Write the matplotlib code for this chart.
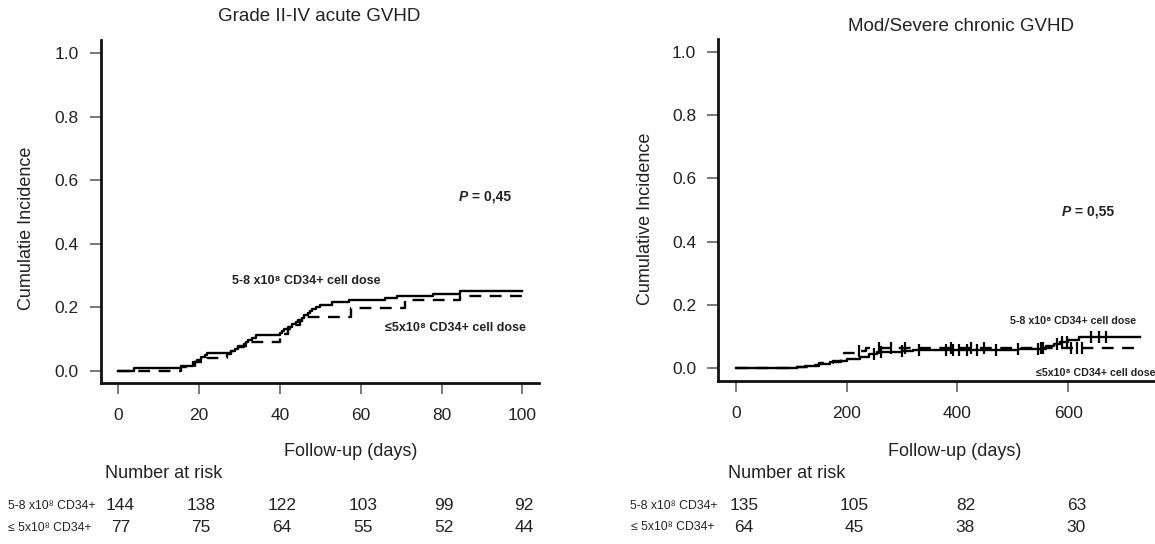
import numpy as np
import matplotlib
matplotlib.use("Agg")
import matplotlib.pyplot as plt

plt.rcParams['font.family'] = ['Liberation Sans', 'DejaVu Sans']

W, H = 1155, 544

# ---------------- data: acute GVHD (left) ----------------
acute_hi_t = [0, 4, 15.5, 18.5, 19.5, 20.5, 21.5, 22, 28, 29, 29.5, 31, 31.5, 32, 33, 34,
              40, 40.5, 41, 42, 43, 44, 44.5, 45.5, 46, 47, 47.5, 48, 49, 50, 53, 57,
              66, 69, 78, 84.5, 100]
acute_hi_v = [0, 0.007, 0.014, 0.028, 0.035, 0.042, 0.049, 0.056, 0.063, 0.069, 0.076, 0.083,
              0.090, 0.097, 0.104, 0.111, 0.118, 0.125, 0.132, 0.139, 0.146, 0.153, 0.160,
              0.167, 0.174, 0.181, 0.188, 0.194, 0.201, 0.208, 0.215, 0.222, 0.229, 0.236,
              0.243, 0.250, 0.250]
acute_lo_t = [0, 15.5, 19, 22, 27, 28, 29.5, 32, 40, 41, 42, 43.5, 45, 46.5, 57.5, 71, 84.5, 100]
acute_lo_v = [0, 0.013, 0.026, 0.039, 0.052, 0.065, 0.078, 0.091, 0.104, 0.117, 0.130, 0.143,
              0.156, 0.170, 0.196, 0.222, 0.235, 0.235]
acute_ticks = [0, 20, 40, 60, 80, 100]
acute_risk_hi = [144, 138, 122, 103, 99, 92]
acute_risk_lo = [77, 75, 64, 55, 52, 44]

# ---------------- data: chronic GVHD (right) ----------------
chron_hi_t = [0, 110, 125, 150, 170, 190, 200, 225, 240, 255, 300, 320, 510, 560, 575, 585, 600, 620, 730]
chron_hi_v = [0, 0.004, 0.008, 0.015, 0.019, 0.023, 0.030, 0.037, 0.044, 0.051, 0.055, 0.058,
              0.062, 0.069, 0.076, 0.083, 0.090, 0.098, 0.098]
chron_lo_t = [0, 110, 130, 150, 175, 190, 195, 215, 235, 730]
chron_lo_v = [0, 0.004, 0.010, 0.016, 0.022, 0.031, 0.047, 0.055, 0.063, 0.063]
chron_hi_cens = [250, 262, 300, 330, 380, 392, 402, 418, 436, 470, 510, 545, 580, 588, 598, 640, 655, 668]
chron_lo_cens = [222, 258, 280, 305, 388, 425, 448, 550, 555, 605, 615, 625]
chron_ticks = [0, 200, 400, 600]
chron_risk_hi = [135, 105, 82, 63]
chron_risk_lo = [64, 45, 38, 30]

row_hi = "5-8 x10\u2078 CD34+"
row_lo = "\u2264 5x10\u2078 CD34+"
lab_hi = "5-8 x10\u2078 CD34+ cell dose"
lab_lo = "\u22645x10\u2078 CD34+ cell dose"


def fx(x):
    return x / W


def fy(y):
    return 1 - y / H


def step_val(ts, vs, t):
    i = np.searchsorted(ts, t, side='right') - 1
    return vs[max(i, 0)]


fig = plt.figure(figsize=(W / 100, H / 100), dpi=100)

axL = fig.add_axes([fx(100.7), fy(383.4), (538.5 - 100.7) / W, (383.4 - 39.5) / H])
axR = fig.add_axes([fx(718.3), fy(381.0), 437.8 / W, (381.0 - 38.9) / H])

for ax in (axL, axR):
    for s in ('top', 'right'):
        ax.spines[s].set_visible(False)
    for s in ('left', 'bottom'):
        ax.spines[s].set_linewidth(2.0)
        ax.spines[s].set_color('#111111')
    ax.tick_params(axis='both', direction='out', length=8, width=1.1, color='#555555',
                   labelsize=12.5, labelcolor='#222222')
    ax.tick_params(axis='y', pad=8)
    ax.tick_params(axis='x', pad=10)
    ax.set_yticks([0, 0.2, 0.4, 0.6, 0.8, 1.0])
    ax.set_yticklabels(['0.0', '0.2', '0.4', '0.6', '0.8', '1.0'])

dash = (0, (5, 3.6))

# Left panel
axL.step(acute_hi_t, acute_hi_v, where='post', color='black', lw=1.7)
axL.step(acute_lo_t, acute_lo_v, where='post', color='black', lw=1.7, linestyle=dash)
axL.set_xlim(-4.36, 104.0)
axL.set_ylim(-0.04, 1.043)
axL.set_xticks(acute_ticks)

# Right panel
axR.step(chron_hi_t, chron_hi_v, where='post', color='black', lw=1.7)
axR.step(chron_lo_t, chron_lo_v, where='post', color='black', lw=1.7, linestyle=dash)
cv_hi = [step_val(chron_hi_t, chron_hi_v, t) for t in chron_hi_cens]
cv_lo = [step_val(chron_lo_t, chron_lo_v, t) for t in chron_lo_cens]
axR.plot(chron_hi_cens, cv_hi, ls='none', marker='|', ms=9, mew=1.6, color='black')
axR.plot(chron_lo_cens, cv_lo, ls='none', marker='|', ms=9, mew=1.6, color='black')
axR.set_xlim(-31.4, 758.3)
axR.set_ylim(-0.04, 1.040)
axR.set_xticks(chron_ticks)

tc = '#222222'
# Titles and axis labels
fig.text(fx(319), fy(16.7), "Grade II-IV acute GVHD", ha='center', va='center', fontsize=13.5, color=tc)
fig.text(fx(961), fy(26.7), "Mod/Severe chronic GVHD", ha='center', va='center', fontsize=13.5, color=tc)
fig.text(fx(27), fy(228), "Cumulatie Incidence", rotation=90, ha='center', va='center', fontsize=13, color=tc)
fig.text(fx(646), fy(219), "Cumulative Incidence", rotation=90, ha='center', va='center', fontsize=13, color=tc)
fig.text(fx(351), fy(451.7), "Follow-up (days)", ha='center', va='center', fontsize=13, color=tc)
fig.text(fx(955), fy(451), "Follow-up (days)", ha='center', va='center', fontsize=13, color=tc)
fig.text(fx(105.4), fy(473.3), "Number at risk", ha='left', va='center', fontsize=13, color=tc)
fig.text(fx(728.5), fy(473.3), "Number at risk", ha='left', va='center', fontsize=13, color=tc)

# Curve labels
fig.text(fx(231.7), fy(281), lab_hi, ha='left', va='center', fontsize=9, fontweight='bold', color=tc)
fig.text(fx(385), fy(327.7), lab_lo, ha='left', va='center', fontsize=9, fontweight='bold', color=tc)
fig.text(fx(1010), fy(320.7), lab_hi, ha='left', va='center', fontsize=7.7, fontweight='bold', color=tc)
fig.text(fx(1155), fy(372.7), lab_lo, ha='right', va='center', fontsize=7.7, fontweight='bold', color=tc)


def ptext(x, y, val):
    t1 = fig.text(fx(x), fy(y), "P", ha='left', va='baseline', fontsize=10,
                  fontweight='bold', fontstyle='italic', color=tc)
    fig.canvas.draw()
    bb = t1.get_window_extent()
    fig.text(bb.x1 / W, fy(y), " = " + val, ha='left', va='baseline', fontsize=10,
             fontweight='bold', color=tc)


ptext(458.7, 200.5, "0,45")
ptext(1061.7, 215.5, "0,55")

# Number-at-risk tables
for i, t in enumerate(acute_ticks):
    xp = 118.3 + 4.04 * t + 2
    fig.text(fx(xp), fy(506), str(acute_risk_hi[i]), ha='center', va='center', fontsize=12.5, color=tc)
    fig.text(fx(xp), fy(528), str(acute_risk_lo[i]), ha='center', va='center', fontsize=12.5, color=tc)
for i, t in enumerate(chron_ticks):
    xp = 735.7 + 0.5544 * t + 8
    fig.text(fx(xp), fy(506), str(chron_risk_hi[i]), ha='center', va='center', fontsize=12.5, color=tc)
    fig.text(fx(xp), fy(527), str(chron_risk_lo[i]), ha='center', va='center', fontsize=12.5, color=tc)

fig.text(fx(8), fy(506), row_hi, ha='left', va='center', fontsize=8.8, color=tc)
fig.text(fx(8), fy(528), row_lo, ha='left', va='center', fontsize=8.8, color=tc)
fig.text(fx(629.5), fy(506), row_hi, ha='left', va='center', fontsize=8.8, color=tc)
fig.text(fx(631), fy(527), row_lo, ha='left', va='center', fontsize=8.8, color=tc)

fig.savefig("out.png", dpi=100)
